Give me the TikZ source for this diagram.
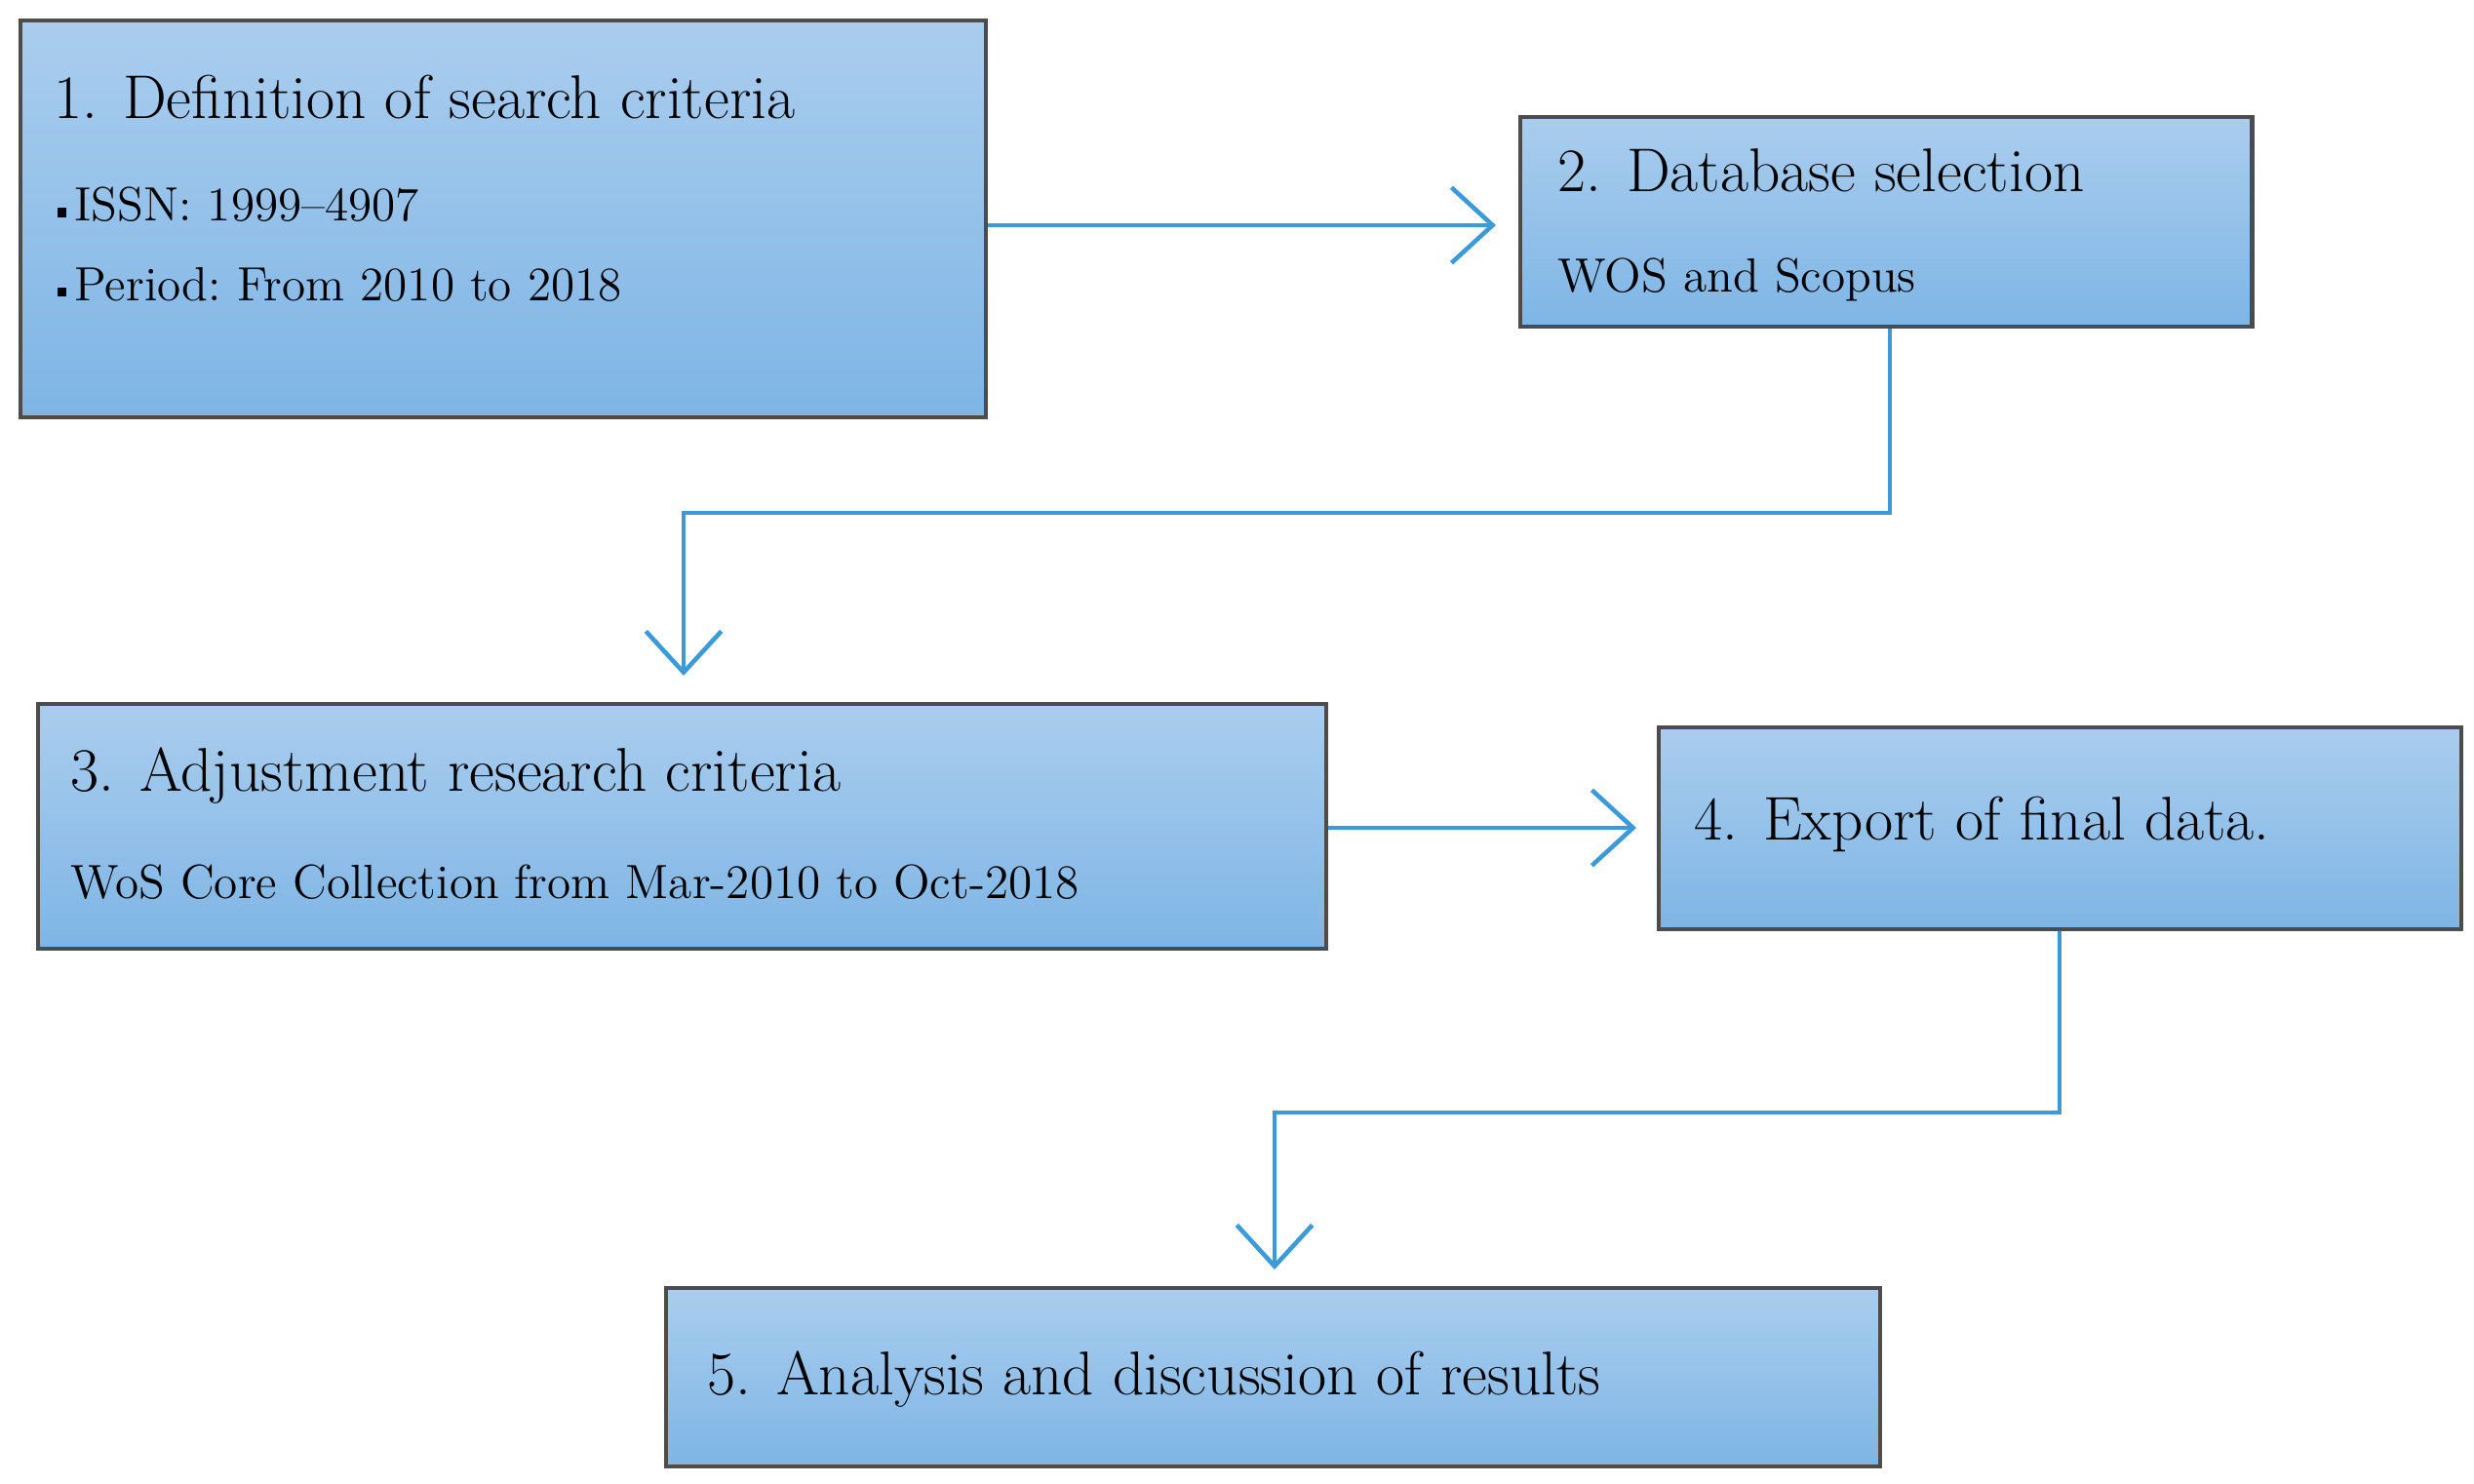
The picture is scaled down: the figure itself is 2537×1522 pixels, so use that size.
\documentclass[tikz,border=0pt]{standalone}
\usetikzlibrary{arrows.meta}
\newcommand{\sqb}{\rule[0.2ex]{0.45ex}{0.45ex}\,}
\begin{document}
\begin{tikzpicture}[x=0.01cm,y=-0.01cm,
  box/.style={draw=black!70,line width=1.2pt,top color={rgb,255:red,170;green,205;blue,238},bottom color={rgb,255:red,126;green,181;blue,229},inner sep=0pt,anchor=north west},
  ttl/.style={anchor=west,font=\fontsize{18}{20}\selectfont,inner sep=0pt},
  sub/.style={anchor=west,font=\fontsize{14}{16}\selectfont,inner sep=0pt},
  con/.style={draw={rgb,255:red,60;green,154;blue,217},line width=1.3pt,-{Straight Barb[length=12pt,width=22pt,line width=1.3pt]}}]
\useasboundingbox (0,0) rectangle (2537,1522);
\node[box,minimum width=9.89cm,minimum height=4.07cm] (b1) at (19,19) {};
\node[box,minimum width=7.5cm,minimum height=2.15cm] (b2) at (1557,118) {};
\node[box,minimum width=13.2cm,minimum height=2.51cm] (b3) at (37,720) {};
\node[box,minimum width=8.22cm,minimum height=2.07cm] (b4) at (1699,744) {};
\node[box,minimum width=12.44cm,minimum height=1.83cm] (b5) at (681,1319) {};
\node[ttl] (t1) at (55,100) {1. Definition of search criteria};
\node[sub] (s1) at (58,210) {\sqb ISSN: 1999--4907};
\node[sub] (s2) at (58,292) {\sqb Period:\ From\ 2010 to 2018};
\node[ttl] (t2) at (1597,175) {2. Database selection};
\node[sub] (s3) at (1597,287) {WOS and\ Scopus};
\node[ttl] (t3) at (72,796) {3. Adjustment research criteria};
\node[sub] (s4) at (72,905) {WoS Core\ Collection from\ Mar-2010 to Oct-2018};
\node[ttl] (t4) at (1737,845) {4. Export of final\ data.};
\node[ttl] (t5) at (725,1415) {5. Analysis and discussion of results};
\coordinate (c1) at (1938,526); \coordinate (c2) at (701,526);
\coordinate (c3) at (2112,1141); \coordinate (c4) at (1307,1141);
\coordinate (e1) at (1534,231); \coordinate (e2) at (701,693);
\coordinate (e3) at (1678,849); \coordinate (e4) at (1307,1302);
\draw[con] (b1.east |- e1) -- (e1);
\draw[con] (b2.south -| c1) -- (c1) -- (c2) -- (e2);
\draw[con] (b3.east |- e3) -- (e3);
\draw[con] (b4.south -| c3) -- (c3) -- (c4) -- (e4);
\end{tikzpicture}
\end{document}
